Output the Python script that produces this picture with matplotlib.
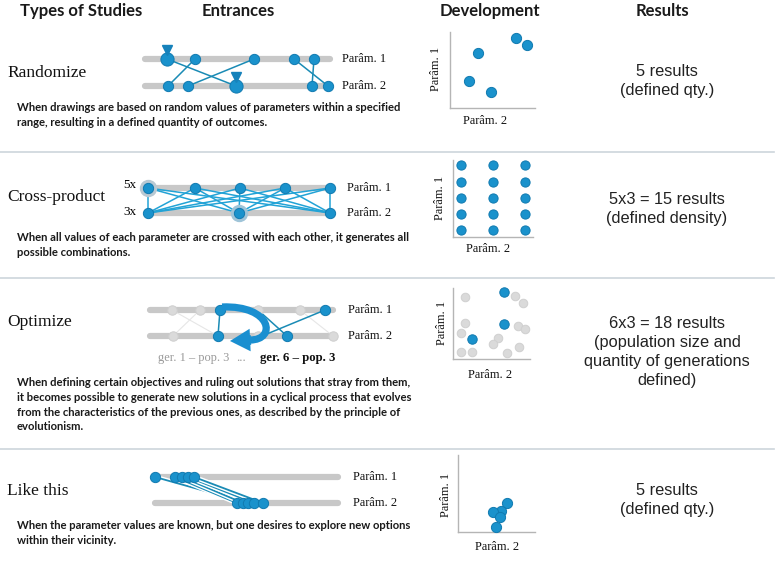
import matplotlib
matplotlib.use('Agg')
import matplotlib.pyplot as plt
import matplotlib.patheffects as pe
from matplotlib.path import Path
from matplotlib.patches import FancyArrowPatch, PathPatch

W, H = 782, 567

BLUE = '#1a92cc'
EDGE = '#117ab0'
LINE = '#1a8bb5'
BAR = '#c8c8c8'
PALE = '#dadada'
RULE = '#cdd5dc'

SANS_B = 'Lato'
SERIF = 'Liberation Serif'
ARIAL = 'Liberation Sans'

# ---- texts ----
headers = ['Types of Studies', 'Entrances', 'Development', 'Results']
header_x = [81, 238, 490, 662]

studies = ['Randomize', 'Cross-product', 'Optimize', 'Like this']
study_y = [73, 197, 322, 491]

descriptions = [
    'When drawings are based on random values of parameters within a specified\n'
    'range, resulting in a defined quantity of outcomes.',
    'When all values of each parameter are crossed with each other, it generates all\n'
    'possible combinations.',
    'When defining certain objectives and ruling out solutions that stray from them,\n'
    'it becomes possible to generate new solutions in a cyclical process that evolves\n'
    'from the characteristics of the previous ones, as described by the principle of\n'
    'evolutionism.',
    'When the parameter values are known, but one desires to explore new options\n'
    'within their vicinity.',
]
desc_y = [102, 232, 377, 520]

results = [
    '5 results\n(defined qty.)',
    '5x3 = 15 results\n(defined density)',
    '6x3 = 18 results\n(population size and\nquantity of generations\ndefined)',
    '5 results\n(defined qty.)',
]
result_y = [81, 209, 352, 500]

rules_y = [152, 278, 449]

# ---- entrances (positions along parameter bars) ----
bar_span = [(145, 330), (148, 330), (150, 333), (155, 338)]
bar_y = [(59, 86), (188, 213), (310, 336), (477, 503)]
label_x = [342, 347, 348, 353]

rand_p1 = [167, 195, 254, 294, 314]
rand_p2 = [168, 188, 236, 312, 328]
rand_links = [(167, 236), (195, 168), (254, 188), (294, 328), (314, 312)]
rand_pins = [(167, 0), (236, 1)]

cross_p1 = [148, 195, 240, 285, 330]
cross_p2 = [148, 239, 330]

opt_gray1 = [172, 200, 258, 300]
opt_gray2 = [173, 258, 333]
opt_blue1 = [220, 325]
opt_blue2 = [218, 287]
opt_links = [(220, 218), (325, 262), (258, 287)]
opt_faint = [(172, 218), (300, 333), (200, 173)]

like_p1 = [155, 175, 182, 188, 194]
like_p2 = [237, 243, 248, 254, 263]
like_links = [(155, 248), (175, 237), (182, 243), (188, 254), (194, 263)]

# ---- development scatter data (0-10 scale) ----
dev_boxes = [(450, 32, 535, 108), (453, 160, 533, 237),
             (453, 288, 530, 359), (458, 455, 535, 532)]
rand_x = [7.8, 9.1, 3.3, 2.2, 4.8]
rand_y = [9.2, 8.3, 7.2, 3.6, 2.1]
grid_x = [1.0, 5.0, 9.0]
grid_y = [0.9, 3.0, 5.0, 7.2, 9.4]
opt_bx = [6.6, 6.6, 2.5]
opt_by = [9.4, 4.9, 2.8]
opt_gx = [1.6, 8.1, 9.1, 1.6, 1.0, 5.8, 5.2, 8.4, 9.4, 1.0, 2.5, 7.0, 8.6]
opt_gy = [8.7, 8.9, 7.9, 5.1, 3.7, 3.0, 2.1, 4.6, 4.2, 1.0, 1.0, 0.8, 1.7]
like_x = [6.4, 5.6, 4.5, 5.5, 4.9]
like_y = [3.8, 2.7, 2.6, 1.9, 0.6]
dev_xlab = [(485, 121), (488, 249), (490, 375), (497, 547)]
dev_ylab = [(436, 69), (440, 198), (442, 323), (446, 495)]

fig = plt.figure(figsize=(W / 100, H / 100), dpi=100)
ax = fig.add_axes([0, 0, 1, 1])
ax.set_xlim(0, W)
ax.set_ylim(H, 0)
ax.axis('off')

for hx, h in zip(header_x, headers):
    ax.text(hx, 11, h, ha='center', va='center', family=SANS_B,
            fontweight='bold', fontsize=12, color='#1a1a1a')

for yy in rules_y:
    ax.plot([0, 774], [yy, yy], color=RULE, lw=1.2)

for sy, s in zip(study_y, studies):
    ax.text(7, sy, s, ha='left', va='center', family=SERIF, fontsize=12.5,
            color='#111111')

for dy, d in zip(desc_y, descriptions):
    ax.text(17, dy, d, ha='left', va='top', family=SANS_B, fontweight='bold',
            fontsize=8.1, linespacing=1.42, color='#1a1a1a')

for ry, r in zip(result_y, results):
    ax.text(667, ry, r, ha='center', va='center', family=ARIAL,
            fontsize=11.8, linespacing=1.36, color='#222222')

# parameter bars and labels
for (x0, x1), (y1, y2), lx in zip(bar_span, bar_y, label_x):
    for yy, lab in ((y1, 'Parâm. 1'), (y2, 'Parâm. 2')):
        ax.plot([x0, x1], [yy, yy], color=BAR, lw=4.5, solid_capstyle='round',
                zorder=1)
        ax.text(lx, yy, lab, ha='left', va='center', family=SERIF,
                fontsize=8.9, color='#111111')


def dots(xs, yy, color=BLUE, ms=7.4, z=4):
    ax.plot(xs, [yy] * len(xs), 'o', color=color, ms=ms,
            mec=EDGE if color == BLUE else '#cfcfcf', mew=0.7, zorder=z)


def links(pairs, y1, y2, color=LINE, lw=1.1, z=2, **kw):
    for a, b in pairs:
        ax.plot([a, b], [y1, y2], color=color, lw=lw, zorder=z, **kw)


# Randomize
y1, y2 = bar_y[0]
links(rand_links, y1, y2)
dots(rand_p1, y1)
dots(rand_p2, y2)
for px, row in rand_pins:
    yy = bar_y[0][row]
    ax.plot(px, yy, 'o', color=BLUE, ms=9.5, mec=EDGE, mew=0.7, zorder=5)
    ax.plot(px, yy - 9, 'v', color='#1682bb', ms=6.5, zorder=5)

# Cross-product
y1, y2 = bar_y[1]
links([(a, b) for a in cross_p1 for b in cross_p2], y1, y2,
      color='#22a3d6', lw=1.1)
ax.plot(cross_p1[0], y1, 'o', color='#b9c9d3', ms=11.5, zorder=3)
ax.plot(cross_p2[1], y2, 'o', color='#9fc4d8', ms=11.5, zorder=3)
dots(cross_p1, y1)
dots(cross_p2, y2)
ax.text(123, 185, '5x', ha='left', va='center', family=SERIF, fontsize=9.5)
ax.text(123, 212, '3x', ha='left', va='center', family=SERIF, fontsize=9.5)

# Optimize
y1, y2 = bar_y[2]
links(opt_faint, y1, y2, color='#e6e6e6', lw=0.8)
links(opt_links, y1, y2)
dots(opt_gray1, y1, color=PALE, ms=6.8, z=3)
dots(opt_gray2, y2, color=PALE, ms=6.8, z=3)
dots(opt_blue1, y1)
dots(opt_blue2, y2)
ARROW = '#1a8fd0'
loop = Path([(222, 307), (272, 305), (277, 340), (250, 340)],
            [Path.MOVETO, Path.CURVE4, Path.CURVE4, Path.CURVE4])
ax.add_patch(PathPatch(loop, fill=False, edgecolor=ARROW, lw=5.2,
                       capstyle='butt', zorder=6))
ax.add_patch(FancyArrowPatch((251, 340), (230, 341),
                             arrowstyle='simple,head_length=0.58,'
                             'head_width=0.65,tail_width=0.28',
                             mutation_scale=25, color=ARROW, lw=0,
                             shrinkA=0, shrinkB=0, zorder=6))
ax.text(229, 358, 'ger. 1 – pop. 3', ha='right', va='center', family=SERIF,
        fontsize=8.9, color='#9a9a9a')
ax.text(236, 358, '...', ha='left', va='center', family=SERIF,
        fontsize=8.9, color='#9a9a9a')
ax.text(260, 358, 'ger. 6 – pop. 3', ha='left', va='center', family=SERIF,
        fontsize=9.2, fontweight='bold', color='#111111')

# Like this
y1, y2 = bar_y[3]
links(like_links, y1, y2, lw=1.3,
      path_effects=[pe.Stroke(linewidth=3.4, foreground='white'), pe.Normal()])
dots(like_p1, y1)
dots(like_p2, y2)

# development panels
panels = [
    [(rand_x, rand_y, BLUE, 54)],
    [([gx for gx in grid_x for _ in grid_y], [gy for _ in grid_x for gy in grid_y], BLUE, 44)],
    [(opt_gx, opt_gy, PALE, 38), (opt_bx, opt_by, BLUE, 46)],
    [(like_x, like_y, BLUE, 54)],
]
for (x0, yt, x1, yb), series, (xl, yl), (ylx, yly) in zip(dev_boxes, panels,
                                                         dev_xlab, dev_ylab):
    dax = fig.add_axes([x0 / W, 1 - yb / H, (x1 - x0) / W, (yb - yt) / H])
    dax.set_xlim(0, 10)
    dax.set_ylim(0, 10)
    for xs, ys, c, s in series:
        dax.scatter(xs, ys, s=s, color=c,
                    edgecolor=EDGE if c == BLUE else '#d0d0d0', lw=0.7,
                    clip_on=False, zorder=3)
    for side in ('top', 'right'):
        dax.spines[side].set_visible(False)
    for side in ('left', 'bottom'):
        dax.spines[side].set_color('#b5b5b5')
        dax.spines[side].set_linewidth(1.0)
    dax.set_xticks([])
    dax.set_yticks([])
    dax.patch.set_alpha(0)
    ax.text(xl, yl, 'Parâm. 2', ha='center', va='center', family=SERIF,
            fontsize=8.9, color='#111111')
    ax.text(ylx, yly, 'Parâm. 1', ha='center', va='center', family=SERIF,
            fontsize=8.9, rotation=90, color='#111111')

fig.savefig('out.png', dpi=100)
